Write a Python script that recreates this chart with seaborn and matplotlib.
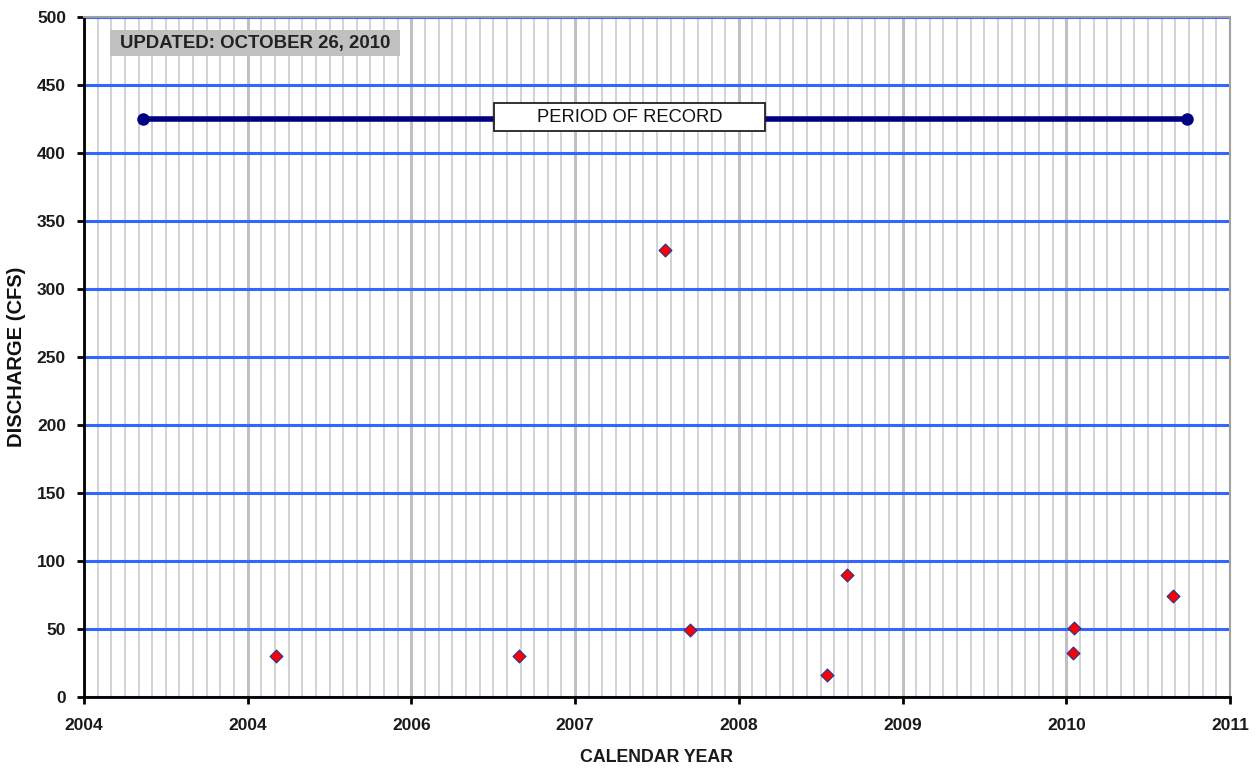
import matplotlib
matplotlib.use("Agg")
import matplotlib.pyplot as plt
from matplotlib.patches import Rectangle
import seaborn as sns
import pandas as pd
import numpy as np

# ---- data ----
meas_year = [2005.17, 2006.66, 2007.55, 2007.70, 2008.54, 2008.66, 2010.05, 2010.04, 2010.65]
meas_cfs = [30, 30, 329, 49, 16, 90, 51, 32, 74]
record_year = [2004.36, 2010.74]
record_cfs = [425, 425]
tick_pos = [2004, 2005, 2006, 2007, 2008, 2009, 2010, 2011]
tick_labels = ["2004", "2004", "2006", "2007", "2008", "2009", "2010", "2011"]
y_ticks = list(range(0, 501, 50))

sns.set_theme(style="white")
plt.rcParams['font.family'] = ['Liberation Sans', 'DejaVu Sans']

fig = plt.figure(figsize=(12.6, 7.69), dpi=100)
ax = fig.add_axes([84/1260, 1-697/769, (1230-84)/1260, (697-17)/769])

ax.set_xlim(2004, 2011)
ax.set_ylim(0, 500)
ax.set_xticks(tick_pos)
ax.set_xticklabels(tick_labels, fontsize=12.5, fontweight="bold", color="#1a1a1a")
ax.set_xticks(np.arange(2004, 2011.0001, 1/12), minor=True)
ax.set_yticks(y_ticks)
ax.set_yticklabels([str(v) for v in y_ticks], fontsize=12.5, fontweight="bold", color="#1a1a1a")

ax.grid(which="minor", axis="x", color="#d0d0d0", linewidth=1.3, zorder=0)
ax.grid(which="major", axis="x", color="#c0c0c0", linewidth=2.2, zorder=0)
ax.grid(which="major", axis="y", color="#3366ff", linewidth=2.2, zorder=1)
ax.set_axisbelow(True)

rec = pd.DataFrame({"year": record_year, "cfs": record_cfs})
sns.lineplot(data=rec, x="year", y="cfs", ax=ax, color="#000080", linewidth=4,
             marker="o", markersize=9, markeredgewidth=0, zorder=3)

meas = pd.DataFrame({"year": meas_year, "cfs": meas_cfs})
sns.scatterplot(data=meas, x="year", y="cfs", ax=ax, marker="D", s=42,
                color="#ff0000", edgecolor="#33338f", linewidth=0.9, zorder=4)

# PERIOD OF RECORD box
px0, px1 = (494-84)/1146, (765-84)/1146
py0, py1 = (697-131)/680, (697-103)/680
ax.add_patch(Rectangle((px0, py0), px1-px0, py1-py0, transform=ax.transAxes,
                       facecolor="white", edgecolor="#222222", linewidth=1.3, zorder=5))
ax.text((px0+px1)/2, (py0+py1)/2, "PERIOD OF RECORD", transform=ax.transAxes,
        ha="center", va="center", fontsize=13.2, color="#111111", zorder=6)

# UPDATED box
ux0, ux1 = (110-84)/1146, (400-84)/1146
uy0, uy1 = (697-56)/680, (697-30)/680
ax.add_patch(Rectangle((ux0, uy0), ux1-ux0, uy1-uy0, transform=ax.transAxes,
                       facecolor="#c0c0c0", edgecolor="none", zorder=5))
ax.text((ux0+ux1)/2, (uy0+uy1)/2, "UPDATED: OCTOBER 26, 2010", transform=ax.transAxes,
        ha="center", va="center", fontsize=13.4, fontweight="bold", color="#222222", zorder=6)

ax.set_xlabel("CALENDAR YEAR", fontsize=12.8, fontweight="bold", labelpad=12, color="#1a1a1a")
ax.set_ylabel("DISCHARGE (CFS)", fontsize=14.5, fontweight="bold", labelpad=8, color="#111111")

for s in ["left", "bottom"]:
    ax.spines[s].set_color("black")
    ax.spines[s].set_linewidth(2)
for s in ["top", "right"]:
    ax.spines[s].set_color("#a0a0a0")
    ax.spines[s].set_linewidth(1.5)
ax.tick_params(axis="both", which="major", direction="out", length=5, width=2,
               color="black", bottom=True, left=True)
ax.tick_params(axis="x", which="major", pad=10)
ax.tick_params(axis="y", which="major", pad=8)
ax.tick_params(axis="x", which="minor", length=0)

fig.savefig("out.png", dpi=100)
